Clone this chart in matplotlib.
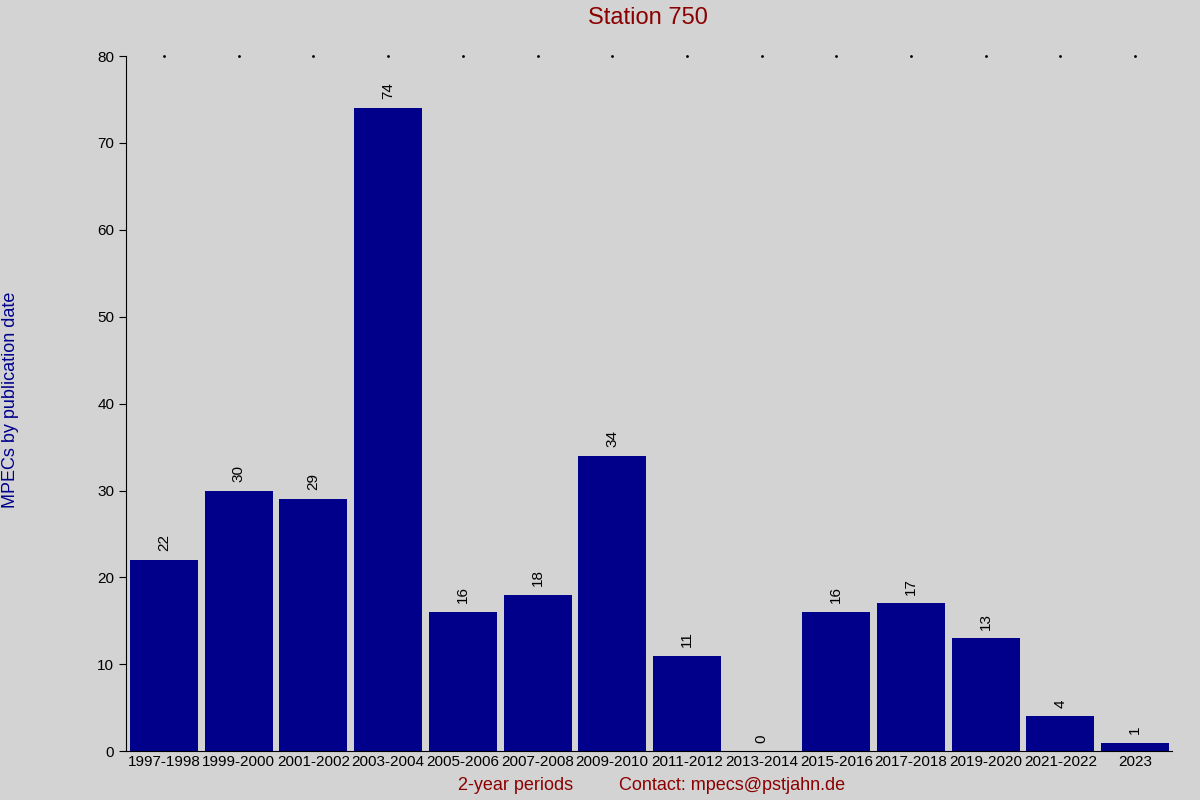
import matplotlib
matplotlib.use("Agg")
import matplotlib.pyplot as plt

categories = ["1997-1998","1999-2000","2001-2002","2003-2004","2005-2006","2007-2008",
              "2009-2010","2011-2012","2013-2014","2015-2016","2017-2018","2019-2020",
              "2021-2022","2023"]
values = [22, 30, 29, 74, 16, 18, 34, 11, 0, 16, 17, 13, 4, 1]

plt.rcParams['font.family'] = ['Liberation Sans', 'DejaVu Sans']
fig = plt.figure(figsize=(12, 8), dpi=100, facecolor='#d3d3d3')
ax = fig.add_axes([0.105, 0.061, 0.872, 0.869])
ax.set_facecolor('#d3d3d3')
x = list(range(len(categories)))
ax.bar(x, values, width=0.91, color='#00008b')
for xi, v in zip(x, values):
    ax.text(xi, v + 1, str(v), rotation=90, ha='center', va='bottom', fontsize=11, color='black')
ax.scatter(x, [80]*len(x), s=1, color='black', clip_on=False)
ax.set_xlim(-0.51, 13.5)
ax.set_ylim(0, 80)
ax.set_xticks(x)
ax.set_xticklabels(categories, fontsize=11)
ax.set_yticks(range(0, 81, 10))
ax.tick_params(axis='y', labelsize=11, direction='out', length=5)
ax.tick_params(axis='x', length=0, pad=3)
for s in ['top', 'right']:
    ax.spines[s].set_visible(False)
fig.text(0.54, 0.977, "Station 750", ha='center', va='center', fontsize=17, color='#8b0000')
fig.text(0.43, 0.018, "2-year periods", ha='center', va='center', fontsize=13, color='#8b0000')
fig.text(0.61, 0.018, "Contact: mpecs@pstjahn.de", ha='center', va='center', fontsize=13, color='#8b0000')
fig.text(0.009, 0.5, "MPECs by publication date", rotation=90, ha='center', va='center', fontsize=13, color='#00008b')
fig.savefig("out.png", dpi=100, facecolor=fig.get_facecolor())
